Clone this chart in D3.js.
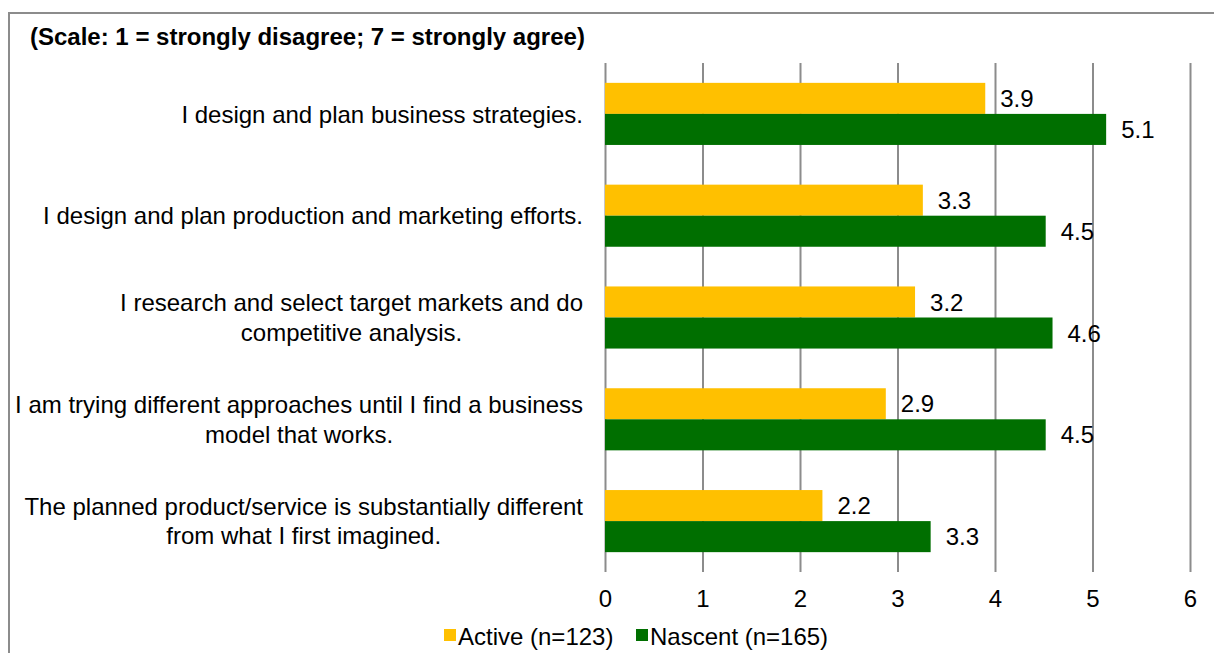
<!DOCTYPE html>
<html><head><meta charset="utf-8">
<script src="https://cdn.jsdelivr.net/npm/d3@7"></script>
<style>
html,body{margin:0;padding:0;background:#fff;overflow:hidden;}
svg{display:block;font-family:"Liberation Sans",Arial,sans-serif;}
</style></head>
<body>
<svg id="chart" width="1214" height="653"></svg>
<script>
const title = "(Scale: 1 = strongly disagree; 7 = strongly agree)";
const categories = [
  ["I design and plan business strategies."],
  ["I design and plan production and marketing efforts."],
  ["I research and select target markets and do", "competitive analysis."],
  ["I am trying different approaches until I find a business", "model that works."],
  ["The planned product/service is substantially different", "from what I first imagined."]
];
const seriesNames = ["Active (n=123)", "Nascent (n=165)"];
const activeValues = [3.9, 3.26, 3.18, 2.88, 2.23];
const nascentValues = [5.14, 4.52, 4.59, 4.52, 3.34];
const tickValues = [0, 1, 2, 3, 4, 5, 6];
const colors = ["#FFC000", "#006F00"];

const svg = d3.select("#chart");
const W = 1214, H = 653;
const FONT = 24;

// frame
svg.append("rect").attr("x", 9).attr("y", 13).attr("width", W + 10).attr("height", H + 10)
  .attr("fill", "#fff").attr("stroke", "#8c8c8c").attr("stroke-width", 2);

svg.append("text").attr("x", 30).attr("y", 45)
  .attr("font-size", 24).attr("font-weight", "bold").attr("fill", "#000").text(title);

const x = d3.scaleLinear().domain([0, 6]).range([605, 1190]);
const idx = categories.map((d, i) => i);
const y = d3.scaleBand().domain(idx).range([63, 572]).paddingInner(0.39).paddingOuter(0.195);
const ySub = d3.scaleBand().domain([0, 1]).range([0, y.bandwidth()]);

// gridlines via axis
const gx = svg.append("g").attr("transform", "translate(0,572)")
  .call(d3.axisBottom(x).tickValues(tickValues).tickSize(-(572 - 63)).tickPadding(18).tickFormat(d3.format("d")));
gx.select(".domain").remove();
gx.selectAll(".tick line").attr("stroke", "#8c8c8c").attr("stroke-width", 2);
gx.selectAll(".tick text").attr("font-size", FONT).attr("fill", "#000")
  .attr("font-family", "'Liberation Sans',Arial,sans-serif");

const series = [activeValues, nascentValues];
series.forEach((vals, s) => {
  const g = svg.append("g");
  g.selectAll("rect").data(vals).join("rect")
    .attr("x", x(0))
    .attr("y", (d, i) => y(i) + ySub(s))
    .attr("width", d => x(d) - x(0))
    .attr("height", ySub.bandwidth())
    .attr("fill", colors[s]);
  g.selectAll("text").data(vals).join("text")
    .attr("x", d => x(d) + 15)
    .attr("y", (d, i) => y(i) + ySub(s) + ySub.bandwidth() / 2)
    .attr("dy", "0.36em")
    .attr("font-size", FONT).attr("fill", "#000")
    .text(d => d.toFixed(1));
});

// category labels
categories.forEach((lines, i) => {
  const cy = y(i) + y.bandwidth() / 2;
  const t = svg.append("text").attr("font-size", FONT).attr("fill", "#000").attr("text-anchor", "middle");
  const lh = 29.5;
  const spans = lines.map((l, k) => t.append("tspan").text(l));
  const maxW = d3.max(spans, sp => sp.node().getComputedTextLength());
  const cx = 583 - maxW / 2;
  spans.forEach((sp, k) => {
    sp.attr("x", cx).attr("y", cy + (k - (lines.length - 1) / 2) * lh).attr("dy", "0.36em");
  });
});

// legend
const legendItems = [{x: 444}, {x: 636}];
legendItems.forEach((it, s) => {
  svg.append("rect").attr("x", it.x).attr("y", 629).attr("width", 12).attr("height", 12).attr("fill", colors[s]);
  svg.append("text").attr("x", it.x + 14).attr("y", 636).attr("dy", "0.36em")
    .attr("font-size", FONT).attr("fill", "#000").text(seriesNames[s]);
});
</script>
</body></html>
